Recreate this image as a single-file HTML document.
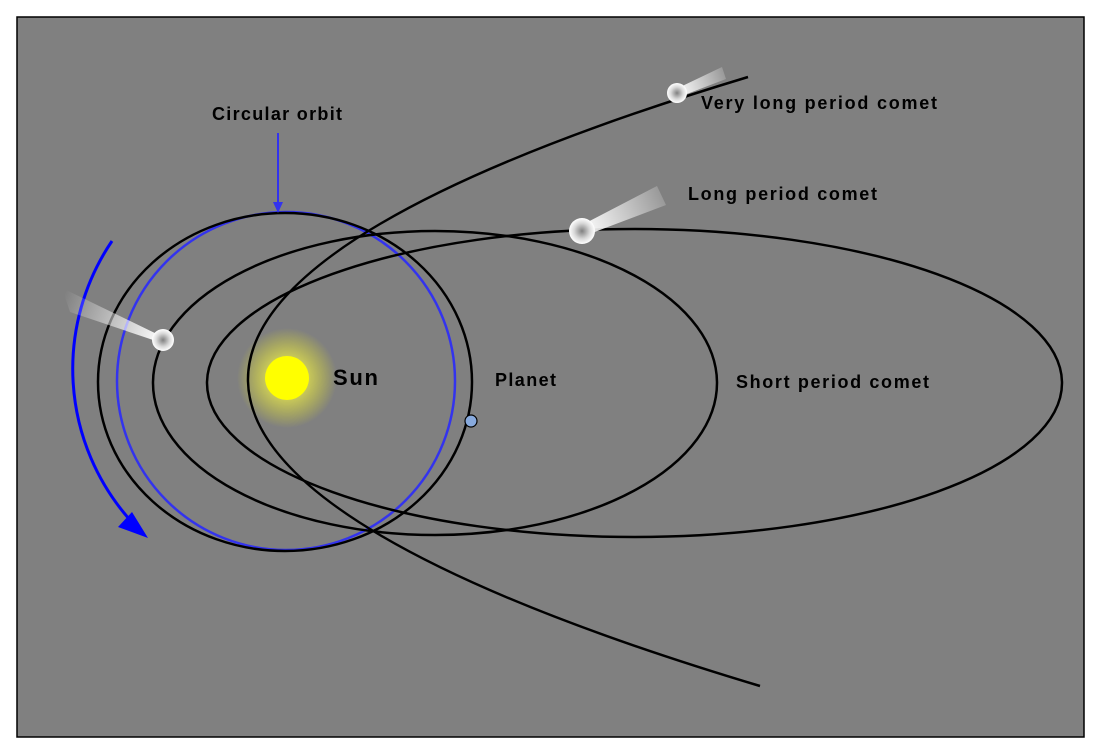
<!DOCTYPE html>
<html><head><style>
html,body{margin:0;padding:0;background:#fff;}
svg{display:block;}
text{font-family:"Liberation Sans",sans-serif;font-weight:bold;fill:#000;}
</style></head><body>
<svg width="1097" height="756" viewBox="0 0 1097 756" xmlns="http://www.w3.org/2000/svg">
<defs>
<radialGradient id="glow" cx="0.5" cy="0.5" r="0.5">
<stop offset="0.4" stop-color="#ffff40" stop-opacity="0.6"/>
<stop offset="1" stop-color="#ffff00" stop-opacity="0"/>
</radialGradient>
<radialGradient id="cm" cx="0.5" cy="0.5" r="0.5">
<stop offset="0" stop-color="#808080"/>
<stop offset="0.6" stop-color="#d8d8d8"/>
<stop offset="1" stop-color="#ffffff"/>
</radialGradient>
<linearGradient id="t1" x1="163" y1="340" x2="62" y2="300" gradientUnits="userSpaceOnUse">
<stop offset="0" stop-color="#fff"/><stop offset="1" stop-color="#fff" stop-opacity="0"/>
</linearGradient>
<linearGradient id="t2" x1="582" y1="231" x2="662" y2="196" gradientUnits="userSpaceOnUse">
<stop offset="0" stop-color="#fff"/><stop offset="1" stop-color="#fff" stop-opacity="0.2"/>
</linearGradient>
<linearGradient id="t3" x1="677" y1="93" x2="725" y2="75" gradientUnits="userSpaceOnUse">
<stop offset="0" stop-color="#fff"/><stop offset="1" stop-color="#fff" stop-opacity="0.2"/>
</linearGradient>
</defs>
<rect x="17" y="17" width="1067" height="720" fill="#808080" stroke="#000" stroke-width="1.5"/>
<circle cx="287" cy="378" r="50" fill="url(#glow)"/>
<circle cx="287" cy="378" r="22" fill="#ffff00"/>
<circle cx="286" cy="381" r="169" fill="none" stroke="#3333ee" stroke-width="2.5"/>
<ellipse cx="285" cy="382" rx="187" ry="169" fill="none" stroke="#000" stroke-width="2.5"/>
<ellipse cx="435" cy="383" rx="282" ry="152" fill="none" stroke="#000" stroke-width="2.5"/>
<ellipse cx="634.5" cy="383" rx="427.5" ry="154" fill="none" stroke="#000" stroke-width="2.5"/>
<path d="M748,77 Q-258,381 760,686" fill="none" stroke="#000" stroke-width="2.5"/>
<path d="M112,241 A228,228 0 0 0 130,520" fill="none" stroke="#0000ff" stroke-width="3"/>
<polygon points="148,538 118,527 132,512" fill="#0000ff"/>
<line x1="278" y1="133" x2="278" y2="204" stroke="#3333ee" stroke-width="2"/>
<polygon points="278,213 273,202 283,202" fill="#3333ee"/>
<circle cx="471" cy="421" r="6" fill="#88aadd" stroke="#000" stroke-width="1.2"/>
<polygon points="161,336 165,344 70,312 62,288" fill="url(#t1)"/>
<circle cx="163" cy="340" r="11" fill="url(#cm)"/>
<polygon points="580,226 584,236 666,205 657,186" fill="url(#t2)"/>
<circle cx="582" cy="231" r="13" fill="url(#cm)"/>
<polygon points="676,89 679,97 726,79 722,67" fill="url(#t3)"/>
<circle cx="677" cy="93" r="10" fill="url(#cm)"/>
<text x="212" y="120" font-size="18" textLength="130" lengthAdjust="spacing">Circular orbit</text>
<text x="333" y="385" font-size="22" textLength="45" lengthAdjust="spacing">Sun</text>
<text x="495" y="386" font-size="18" textLength="61" lengthAdjust="spacing">Planet</text>
<text x="736" y="388" font-size="18" textLength="193" lengthAdjust="spacing">Short period comet</text>
<text x="688" y="200" font-size="18" textLength="189" lengthAdjust="spacing">Long period comet</text>
<text x="701" y="109" font-size="18" textLength="236" lengthAdjust="spacing">Very long period comet</text>
</svg>
</body></html>
